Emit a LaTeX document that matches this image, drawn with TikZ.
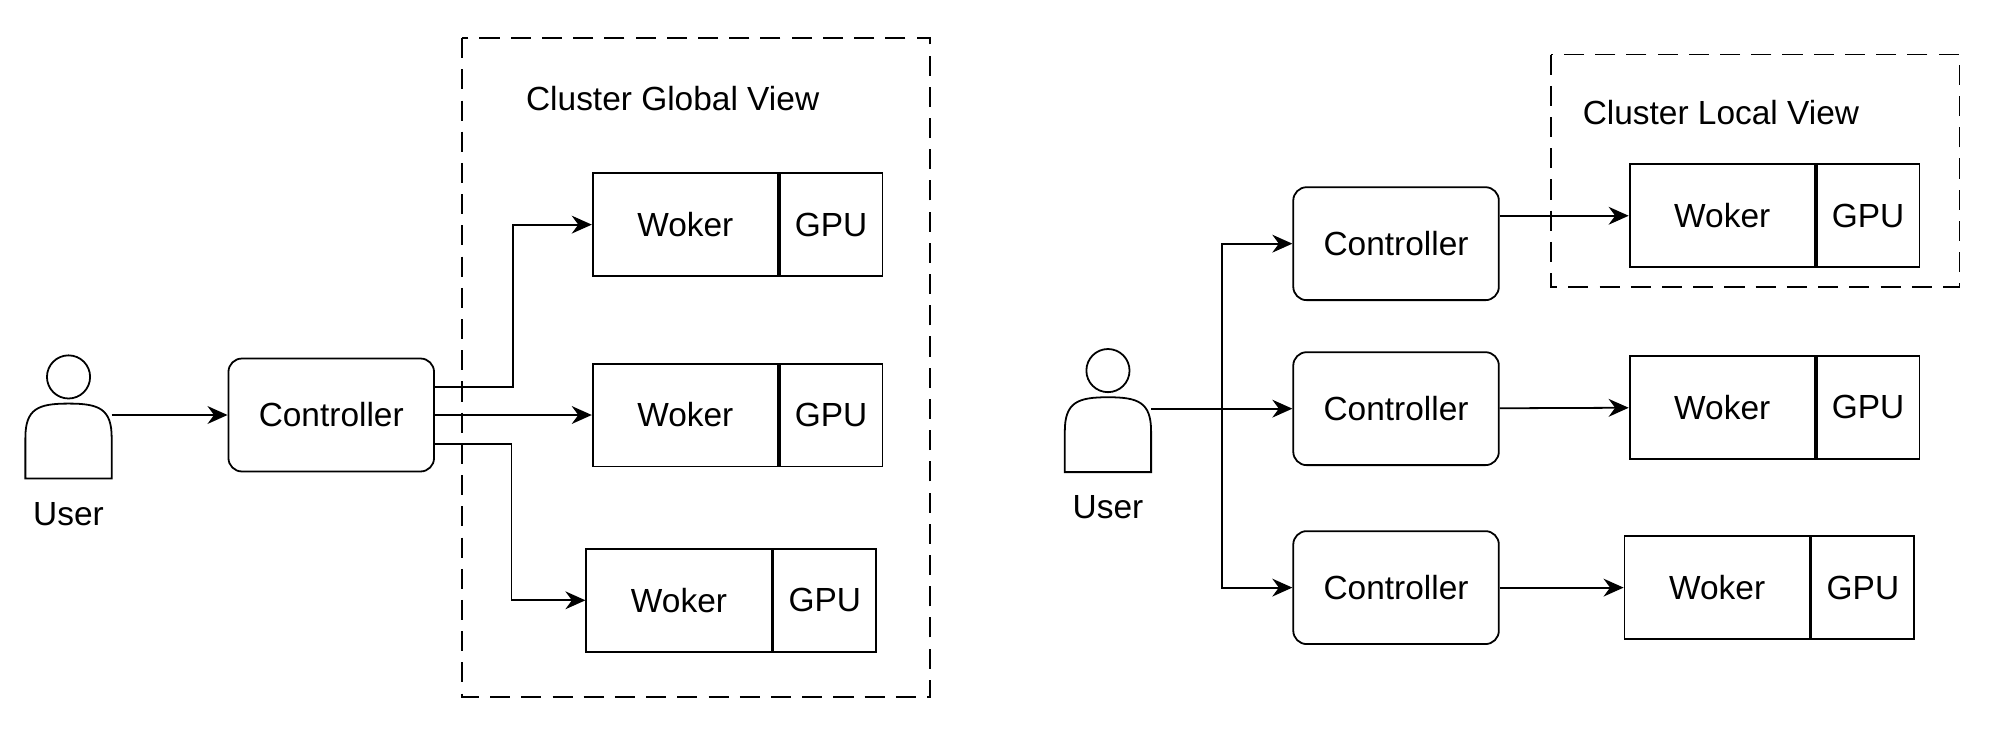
\documentclass[tikz,border=0pt]{standalone}
\usepackage{fontspec}
\setmainfont{Liberation Sans}
\usetikzlibrary{arrows.meta,positioning}
\tikzstyle{ctrl}=[draw, thick, rounded corners=6pt, minimum width=3.24cm,
  minimum height=1.78cm, font=\fontsize{15}{17}\selectfont]
\tikzstyle{woker}=[draw, thick, minimum width=2.92cm, minimum height=1.62cm,
  font=\fontsize{15}{17}\selectfont]
\tikzstyle{gpu}=[draw, thick, minimum width=1.62cm, minimum height=1.62cm,
  font=\fontsize{15}{17}\selectfont]
\tikzstyle{view}=[draw, thick, dash pattern=on 9pt off 5pt]
\tikzstyle{label}=[font=\fontsize{15}{17}\selectfont]
\tikzstyle{line}=[draw, thick, -{Stealth[length=9pt,width=8pt]}]
\newcommand{\usericon}[3]{% x, y of head, name
  \draw[thick] (#1,#2) circle (0.34cm);
  \draw[thick] (#1-34,#2+80) -- (#1-34,#2+48) .. controls (#1-34,#2+25) and (#1-24,#2+21) .. (#1,#2+21)
    .. controls (#1+24,#2+21) and (#1+34,#2+25) .. (#1+34,#2+48) -- (#1+34,#2+80) -- cycle;
  \coordinate (#3) at (#1+34,#2+30);
  \node[label] (#3-lab) at (#1,#2+108) {User};}
\begin{document}
\begin{tikzpicture}[x=0.02cm,y=-0.02cm]
  \useasboundingbox (0,0) rectangle (1568,574);

  % Global view
  \usericon{54}{297}{u1}
  \node[ctrl] (c1) at (261,327) {Controller};
  \draw[view] (364,30) rectangle (733,549);
  \node[label] (t1) at (530,78) {Cluster Global View};
  \node[woker] (w1) at (540,177) {Woker};
  \node[gpu, anchor=west] (g1) at (w1.east) {GPU};
  \node[woker] (w2) at (540,327) {Woker};
  \node[gpu, anchor=west] (g2) at (w2.east) {GPU};
  \node[woker] (w3) at (535,473) {Woker};
  \node[gpu, anchor=west] (g3) at (w3.east) {GPU};

  \path[line] (u1 |- c1) -- (c1);
  \path[line] (342,305) -- (404,305) |- (w1);
  \path[line] (c1.east) -- (w2);
  \path[line] (342,350) -- (403,350) |- (w3);

  % Local view
  \usericon{873}{292}{u2}
  \node[ctrl] (c2) at (1100,192) {Controller};
  \node[ctrl] (c3) at (1100,322) {Controller};
  \node[ctrl] (c4) at (1100,463) {Controller};
  \draw[view] (1222,43) rectangle (1544,226);
  \node[label] (t2) at (1356,89) {Cluster Local View};
  \node[woker] (w4) at (1357,170) {Woker};
  \node[gpu, anchor=west] (g4) at (w4.east) {GPU};
  \node[woker] (w5) at (1357,321) {Woker};
  \node[gpu, anchor=west] (g5) at (w5.east) {GPU};
  \node[woker] (w6) at (1353,463) {Woker};
  \node[gpu, anchor=west] (g6) at (w6.east) {GPU};

  \coordinate (br) at (963,322);
  \path[line] (u2 |- c3) -- (c3);
  \path[line] (br) |- (c2);
  \path[line] (br) |- (c4);
  \path[line] (c2.east |- w4) -- (w4);
  \path[line] (c3) -- (w5);
  \path[line] (c4) -- (w6);
\end{tikzpicture}
\end{document}
